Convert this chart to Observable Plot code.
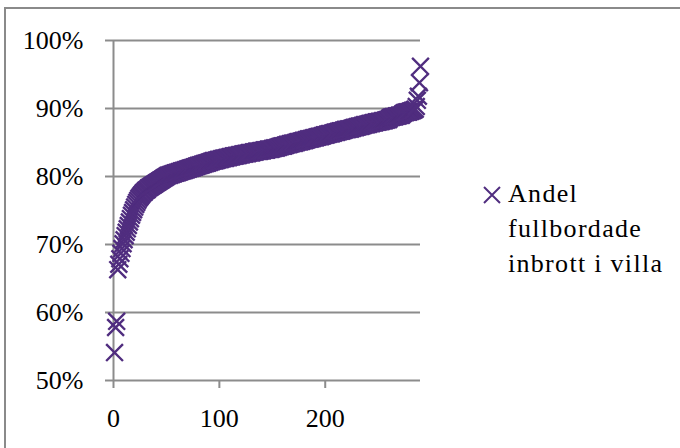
<!DOCTYPE html>
<html><head><meta charset="utf-8">
<style>
html,body{margin:0;padding:0;background:#fff;}
#preload{position:absolute;left:0;top:0;visibility:hidden;font-family:'Liberation Serif',serif;font-size:26px;}
#wrap{position:relative;width:680px;height:448px;overflow:hidden;font-family:'Liberation Serif',serif;}
#border{position:absolute;left:4px;top:7px;width:720px;height:500px;border:2px solid #8a8a8a;box-sizing:border-box;}
#chart{position:absolute;left:0;top:0;}
#legend{position:absolute;left:508px;top:176px;font-size:26px;line-height:35px;letter-spacing:1.3px;color:#000;white-space:nowrap;font-family:'Liberation Serif',serif;}
#legend svg{position:absolute;left:-26px;top:9px;}
#chart svg text{font-family:'Liberation Serif',serif;}
</style>
</head><body>
<div id="preload">0123456789% Andel fullbordade inbrott i villa</div>
<script src="https://cdn.jsdelivr.net/npm/d3@7"></script>
<script src="https://cdn.jsdelivr.net/npm/@observablehq/plot@0.6"></script>
<div id="wrap"><div id="border"></div><div id="chart"></div><div id="legend"></div></div>
<script>
// Share of completed residential burglaries (sorted), rank 1..290
const values = [
  54.1, 57.8, 58.7, 66.3, 67.1, 67.9, 68.7, 69.4, 70.1, 70.7,
  71.3, 71.8, 72.3, 72.8, 73.3, 73.8, 74.3, 74.7, 75.1, 75.5,
  75.9, 76.2, 76.5, 76.8, 77.0, 77.2, 77.4, 77.6, 77.7, 77.9,
  78.0, 78.1, 78.3, 78.4, 78.5, 78.6, 78.7, 78.8, 78.9, 79.0,
  79.1, 79.2, 79.3, 79.4, 79.5, 79.6, 79.7, 79.8, 79.9, 80.0,
  80.1, 80.2, 80.2, 80.3, 80.3, 80.4, 80.4, 80.5, 80.5, 80.6,
  80.6, 80.7, 80.7, 80.8, 80.8, 80.9, 80.9, 81.0, 81.0, 81.1,
  81.1, 81.2, 81.2, 81.3, 81.3, 81.4, 81.4, 81.5, 81.5, 81.6,
  81.6, 81.7, 81.7, 81.8, 81.8, 81.9, 81.9, 82.0, 82.0, 82.1,
  82.1, 82.2, 82.2, 82.3, 82.3, 82.3, 82.4, 82.4, 82.5, 82.5,
  82.5, 82.6, 82.6, 82.7, 82.7, 82.7, 82.8, 82.8, 82.8, 82.9,
  82.9, 82.9, 83.0, 83.0, 83.0, 83.1, 83.1, 83.1, 83.2, 83.2,
  83.2, 83.3, 83.3, 83.3, 83.4, 83.4, 83.4, 83.5, 83.5, 83.5,
  83.5, 83.6, 83.6, 83.6, 83.7, 83.7, 83.7, 83.7, 83.8, 83.8,
  83.8, 83.9, 83.9, 83.9, 83.9, 84.0, 84.0, 84.0, 84.0, 84.1,
  84.1, 84.2, 84.2, 84.2, 84.3, 84.3, 84.4, 84.4, 84.5, 84.5,
  84.5, 84.6, 84.6, 84.7, 84.7, 84.7, 84.8, 84.8, 84.9, 84.9,
  84.9, 85.0, 85.0, 85.1, 85.1, 85.1, 85.2, 85.2, 85.3, 85.3,
  85.3, 85.4, 85.4, 85.5, 85.5, 85.5, 85.6, 85.6, 85.7, 85.7,
  85.7, 85.8, 85.8, 85.9, 85.9, 85.9, 86.0, 86.0, 86.1, 86.1,
  86.1, 86.2, 86.2, 86.3, 86.3, 86.3, 86.4, 86.4, 86.5, 86.5,
  86.5, 86.6, 86.6, 86.7, 86.7, 86.7, 86.8, 86.8, 86.9, 86.9,
  86.9, 87.0, 87.0, 87.0, 87.1, 87.1, 87.2, 87.2, 87.2, 87.3,
  87.3, 87.4, 87.4, 87.4, 87.5, 87.5, 87.6, 87.6, 87.6, 87.7,
  87.7, 87.8, 87.8, 87.8, 87.9, 87.9, 87.9, 88.0, 88.0, 88.0,
  88.1, 88.1, 88.1, 88.2, 88.2, 88.2, 88.3, 88.3, 88.4, 88.4,
  88.6, 88.7, 88.7, 88.8, 88.8, 88.8, 88.9, 88.9, 88.9, 89.0,
  89.0, 89.0, 89.2, 89.3, 89.4, 89.4, 89.5, 89.5, 89.5, 89.6,
  89.6, 89.7, 89.7, 89.8, 89.9, 90.3, 91.2, 91.8, 93.8, 96.2
];
const xTicks = [0, 100, 200];
const yTicks = [50, 60, 70, 80, 90, 100];
const xDomain = [0, 290];
const yDomain = [50, 100];
const legendLines = ["Andel", "fullbordade", "inbrott i villa"];

const purple = "#502d7f";
const gray = "#8c8c8c";
const font = "'Liberation Serif', serif";

const data = values.map((v, i) => ({rank: i + 1, value: v}));

const cross = {
  draw(ctx, size) {
    const h = Math.sqrt(size / Math.PI);
    ctx.moveTo(-h, -h); ctx.lineTo(h, h);
    ctx.moveTo(-h, h); ctx.lineTo(h, -h);
  }
};

const chart = Plot.plot({
  width: 680,
  height: 448,
  marginLeft: 113,
  marginRight: 260,
  marginTop: 40,
  marginBottom: 68,
  style: {fontFamily: font, fontSize: "26px", background: "transparent", color: "#000", overflow: "visible"},
  x: {domain: xDomain, label: null},
  y: {domain: yDomain, label: null},
  marks: [
    Plot.gridY(yTicks, {stroke: gray, strokeOpacity: 1, strokeWidth: 2}),
    Plot.axisY(yTicks, {tickSize: 8, tickPadding: 22, tickFormat: d => d + "%", stroke: gray, strokeWidth: 2, fill: "#000", label: null, fontFamily: font}),
    Plot.ruleX([0], {stroke: gray, strokeWidth: 2}),
    Plot.axisX(xTicks, {tickSize: 8, tickPadding: 20, stroke: gray, strokeWidth: 2, fill: "#000", label: null, fontFamily: font}),
    Plot.dot(data, {x: "rank", y: "value", symbol: cross, r: 8.4, stroke: purple, strokeWidth: 2.4, fill: "none"})
  ]
});
document.getElementById("chart").appendChild(chart);

const legend = document.getElementById("legend");
legend.innerHTML =
  `<svg width="20" height="20" viewBox="0 0 20 20"><path d="M2,2L18,18M2,18L18,2" stroke="${purple}" stroke-width="2" fill="none"/></svg>` +
  legendLines.map(t => `<div>${t}</div>`).join("");
</script>
</body></html>
